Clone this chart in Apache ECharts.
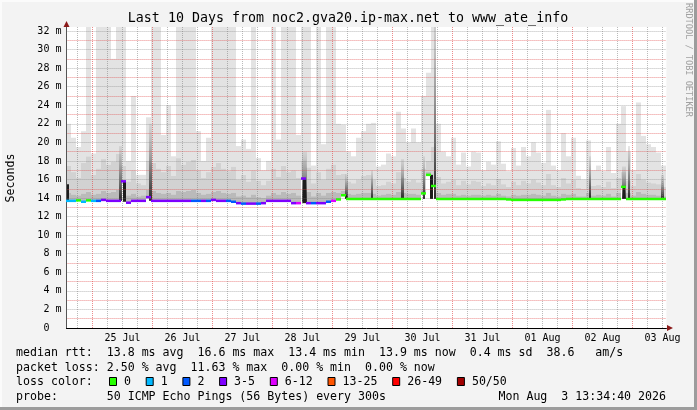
<!DOCTYPE html>
<html><head><meta charset="utf-8">
<script src="https://cdn.jsdelivr.net/npm/echarts@6.0.0/dist/echarts.min.js"></script>
<style>html,body{margin:0;padding:0;background:#f3f3f3}#c{width:697px;height:410px}</style>
</head><body><div id="c"></div>
<script>
// ---- time frame (hours since 2026-07-24 00:00) ----
const START_H = 13.578, END_H = 253.578, STEP_H = 2;

// ---- axis labels ----
const dayLabels = ['25 Jul','26 Jul','27 Jul','28 Jul','29 Jul','30 Jul','31 Jul','01 Aug','02 Aug','03 Aug'];
const dayLabelHours = [36,60,84,108,132,156,180,204,228,252];

// ---- smoke envelope per 2-hour column (ms) ----
const smokeMax = [22,20.5,19.5,21.2,34,18.8,34,34,34,29,
 34,34,18,25,16.5,16.5,22.7,34,34,20.8,
 24,18.5,34,34,34,34,21.2,18,20.5,34,
 34,34,34,34,19.6,20.3,19.3,34,18.3,17,
 18,34,20.3,34,34,34,20.8,34,34,17.5,
 34,19.8,34,34,22,21.9,19,18.5,20.5,21.2,
 22,22.1,17.4,17.6,18.8,18.5,23.3,21.5,20,21.5,
 20,25,27.5,34,22,19,18.5,20.5,17.6,18.9,
 17.4,19,18.9,17,17.9,17.6,20.1,17.7,16.9,19.4,
 17.5,19.5,18.5,20,18.9,17.8,23.5,17.5,17,21,
 18.5,20.5,16.4,16,20.2,17,17.5,16.9,19.5,16.7,
 22,23.9,19,17,24.3,20.7,19.8,19.5,18.9,17.5];
const smokeMid = [17.5,16.8,16.2,17.8,18.5,16.5,17.2,18.2,17.6,17.9,
 18.8,17.5,15.8,17.0,15.6,15.4,18.0,17.8,17.2,16.8,
 17.5,16.4,18.3,17.6,17.9,18.1,17.0,16.2,16.8,17.4,
 17.8,17.2,16.9,17.4,16.0,16.5,15.8,17.0,15.9,15.4,
 15.9,17.2,16.3,17.5,16.8,17.0,16.2,18.0,17.3,15.6,
 16.8,16.0,17.2,17.6,16.5,16.6,15.8,15.6,16.0,16.4,
 16.5,16.0,15.3,15.4,15.8,15.6,16.8,16.2,15.8,16.0,
 15.7,17.2,18.0,19.5,16.3,15.6,15.8,16.0,15.4,15.9,
 15.5,15.9,15.8,15.3,15.6,15.4,16.1,15.5,15.2,15.8,
 15.4,15.9,15.6,16.0,15.7,15.4,16.6,15.4,15.2,16.2,
 15.6,16.0,15.1,15.0,16.0,15.3,15.4,15.2,15.8,15.1,
 16.2,16.8,15.9,15.3,16.6,16.0,15.7,15.6,15.5,15.2];
const smokeDark = [14.6,14.4,14.3,14.5,14.7,14.4,14.5,14.8,14.6,14.7,
 14.9,16.0,14.3,14.5,14.2,14.3,14.9,14.8,14.6,14.5,
 14.6,14.4,14.8,14.7,14.8,14.9,14.6,14.4,14.5,14.7,
 14.8,14.6,14.5,14.6,14.2,14.3,14.1,14.4,14.1,14.0,
 14.3,14.6,14.4,14.7,14.5,14.6,14.3,16.3,14.7,14.2,
 14.6,14.3,14.6,14.7,14.6,14.8,14.5,14.4,14.5,14.6,
 14.6,14.5,14.3,14.4,14.5,14.4,14.7,14.6,14.5,14.5,
 14.4,14.9,16.8,15.6,14.6,14.4,14.5,14.5,14.3,14.4,
 14.3,14.4,14.4,14.3,14.4,14.3,14.5,14.3,14.2,14.4,
 14.3,14.4,14.4,14.5,14.4,14.3,14.6,14.3,14.2,14.5,
 14.4,14.5,14.2,14.2,14.6,14.3,14.4,14.3,14.5,14.2,
 14.6,15.4,14.6,14.3,14.7,14.5,14.4,14.4,14.3,14.2];

// ---- median rtt (ms) and loss class per column ----
const median = [13.7,13.7,13.75,13.6,13.75,13.7,13.7,13.8,13.7,13.7,
 13.7,15.8,13.5,13.7,13.7,13.7,14.1,13.7,13.7,13.7,
 13.7,13.7,13.7,13.7,13.7,13.7,13.7,13.7,13.7,13.8,
 13.7,13.7,13.7,13.6,13.45,13.4,13.4,13.4,13.4,13.45,
 13.7,13.7,13.7,13.7,13.7,13.45,13.45,16.1,13.45,13.45,
 13.45,13.45,13.6,13.7,13.85,14.3,13.9,13.9,13.9,13.9,
 13.9,13.9,13.9,13.9,13.9,13.9,13.9,13.9,13.9,13.9,
 13.9,14.5,16.5,15.3,13.9,13.9,13.9,13.9,13.9,13.9,
 13.9,13.9,13.9,13.9,13.9,13.9,13.9,13.9,13.85,13.8,
 13.8,13.8,13.8,13.8,13.8,13.8,13.8,13.8,13.8,13.85,
 13.9,13.9,13.9,13.9,13.9,13.9,13.9,13.9,13.9,13.9,
 13.9,15.2,13.9,13.9,13.9,13.9,13.9,13.9,13.9,13.9];
const lossClass = [1,1,0,1,0,1,2,3,3,3,
 3,3,3,3,3,3,3,3,3,3,
 3,3,3,3,3,2,2,3,2,3,
 3,3,2,2,3,2,3,3,2,3,
 3,3,3,3,3,3,4,3,3,2,
 3,3,2,4,0,0,0,0,0,0,
 0,0,0,0,0,0,0,0,0,0,
 0,0,0,0,0,0,0,0,0,0,
 0,0,0,0,0,0,0,0,0,0,
 0,0,0,0,0,0,0,0,0,0,
 0,0,0,0,0,0,0,0,0,0,
 0,0,0,0,0,0,0,0,0,0];

// ---- dark smoke spikes ----
const blackStart = [13.9,36.0,108.0,125.0,158.8,236.0];
const blackEnd   = [14.6,37.2,109.2,125.8,160.0,236.8];
const blackLow   = [13.6,13.6,13.45,13.9,13.9,13.9];
const blackHigh  = [15.5,15.8,16.1,14.3,16.5,15.2];
const shadeStart = [34.4,46.4,107.6,124.8,135.2,147.2,156.0,160.4,222.4,235.6,238.0,251.2];
const shadeEnd   = [35.6,47.6,109.6,126.0,136.0,148.4,156.8,161.2,223.2,237.2,238.8,252.4];
const shadeLow   = [13.7,13.7,13.5,13.9,13.9,13.9,13.9,13.9,13.9,13.9,13.9,13.9];
const shadeTop   = [19.6,22,19,16.6,17,18.2,18.5,34,18.5,17.4,19.6,16.5];

// ---- legend ----
const lossLabels = ['0','1','2','3-5','6-12','13-25','26-49','50/50'];
const lossColors = ['#26ff00','#00b8ff','#0059ff','#7e00ff','#dd00ff','#ff5500','#ff0000','#a10000'];
const titleText = 'Last 10 Days from noc2.gva20.ip-max.net to www_ate_info';
const line1 = 'median rtt:  13.8 ms avg  16.6 ms max  13.4 ms min  13.9 ms now  0.4 ms sd  38.6   am/s';
const line2 = 'packet loss: 2.50 % avg  11.63 % max  0.00 % min  0.00 % now';
const line3 = 'loss color:';
const line4 = 'probe:       50 ICMP Echo Pings (56 Bytes) every 300s';
const dateText = 'Mon Aug  3 13:34:40 2026';

// ================= build =================
const F = '"DejaVu Sans Mono", monospace';
const SMOKE_COLORS = ['#bababa', '#d2d2d2', '#e3e3e3'];
const GRID_RED = 'rgba(225,70,70,0.62)', GRID_GREY = 'rgba(120,120,120,0.5)';
const times = smokeMax.map((_, i) => START_H + i * STEP_H);

const minorV = [], majorV = [];
for (let h = 18; h < END_H; h += 6) {
  if (h <= START_H) continue;
  (h % 24 === 0 ? majorV : minorV).push({xAxis: h});
}
function gridSeries(lines, color, z) {
  return {type:'line', data:[], z, silent:true, animation:false,
    markLine:{silent:true, symbol:['none','none'], animation:false, label:{show:false},
      emphasis:{disabled:true}, lineStyle:{color, type:[1,1], width:1}, data:lines}};
}

const shadeGrad = new echarts.graphic.LinearGradient(0,0,0,1,[
  {offset:0, color:'rgba(175,175,175,0.3)'},
  {offset:0.55, color:'rgba(95,95,95,0.7)'},
  {offset:1, color:'rgba(30,30,30,0.95)'}]);

function colRect(api, t0, t1, lo, hi, fill) {
  const a = api.coord([t0, hi]);
  const b = api.coord([t1, lo]);
  const x0 = Math.round(a[0]), x1 = Math.round(b[0]);
  return {type:'rect', shape:{x:x0, y:a[1], width:Math.max(1, x1 - x0), height:b[1] - a[1]}, style:{fill}};
}

const graphics = [];
graphics.push({type:'rect', shape:{x:0,y:0,width:697,height:2}, style:{fill:'#fbfbfb'}, z:0});
graphics.push({type:'rect', shape:{x:0,y:0,width:2,height:410}, style:{fill:'#fbfbfb'}, z:0});
graphics.push({type:'rect', shape:{x:0,y:407,width:697,height:3}, style:{fill:'#9c9c9c'}, z:0});
graphics.push({type:'rect', shape:{x:694,y:0,width:3,height:410}, style:{fill:'#9c9c9c'}, z:0});
graphics.push({type:'text', x:348, y:19, z:50, style:{text:titleText, font:'13.3px '+F, fill:'#000', textAlign:'center', textVerticalAlign:'middle'}});
graphics.push({type:'text', x:11, y:178, rotation:Math.PI/2, z:50, style:{text:'Seconds', font:'11.6px '+F, fill:'#000', textAlign:'center', textVerticalAlign:'middle'}});
graphics.push({type:'text', x:688, y:60, rotation:-Math.PI/2, z:50, style:{text:'RRDTOOL / TOBI OETIKER', font:'8.6px '+F, fill:'#a0a0a0', textAlign:'center', textVerticalAlign:'middle'}});
const rows = [353, 368, 382, 397];
[line1, line2, line3, line4].forEach((t, i) => graphics.push({type:'text', x:16, y:rows[i], z:50,
  style:{text:t, font:'11.6px '+F, fill:'#000', textAlign:'left', textVerticalAlign:'middle'}}));
graphics.push({type:'text', x:666, y:rows[3], z:50, style:{text:dateText, font:'11.6px '+F, fill:'#000', textAlign:'right', textVerticalAlign:'middle'}});
let lx = 109;
lossLabels.forEach((lab, i) => {
  graphics.push({type:'rect', shape:{x:lx+0.5, y:rows[2]-4.5, width:7, height:8}, z:50,
    style:{fill:lossColors[i], stroke:'#000', lineWidth:1}});
  graphics.push({type:'text', x:lx+15, y:rows[2], z:50, style:{text:lab, font:'11.6px '+F, fill:'#000', textAlign:'left', textVerticalAlign:'middle'}});
  lx += 29.7 + 7 * lab.length;
});
graphics.push({type:'polygon', shape:{points:[[667,325],[673,328],[667,331]]}, style:{fill:'#8b1a1a'}, z:60});
graphics.push({type:'polygon', shape:{points:[[63.5,27],[66.5,21],[69.5,27]]}, style:{fill:'#8b1a1a'}, z:60});

const option = {
  backgroundColor:'#f3f3f3',
  animation:false,
  grid:{left:66.445, right:30.555, top:27, bottom:82, show:true, backgroundColor:'#ffffff', borderWidth:0, containLabel:false, outerBoundsMode:'none'},
  xAxis:{type:'value', min:START_H, max:END_H, z:10,
    axisLine:{show:true, onZero:false, lineStyle:{color:'#000', width:1}},
    axisTick:{show:false}, splitLine:{show:false},
    axisLabel:{customValues:dayLabelHours, formatter:v => { const k = dayLabelHours.indexOf(v); return k >= 0 ? dayLabels[k] : ''; },
      fontFamily:F, fontSize:10, color:'#000', margin:5}},
  yAxis:{type:'value', min:0, max:32.43, interval:1, z:3,
    axisLine:{show:true, lineStyle:{color:'#555', width:1}},
    axisTick:{show:false},
    splitLine:{show:true, showMinLine:false, showMaxLine:false, lineStyle:{color:[GRID_RED, GRID_GREY], type:[1,1], width:1}},
    axisLabel:{formatter:v => (v % 2 === 0 ? (v === 0 ? '0  ' : v + ' m') : ''), fontFamily:F, fontSize:10, color:'#000', margin:5, showMaxLabel:false}},
  graphic:graphics,
  series:[
    {type:'custom', name:'smoke', z:1, clip:true, silent:true, animation:false,
      renderItem:(params, api) => {
        const t0 = api.value(0), t1 = api.value(1);
        const m = api.value(2), d = Math.max(m, api.value(3));
        const mid = Math.max(d, api.value(4)), mx = Math.max(mid, api.value(5));
        return {type:'group', children:[
          colRect(api, t0, t1, mid, mx, SMOKE_COLORS[2]),
          colRect(api, t0, t1, d, mid, SMOKE_COLORS[1]),
          colRect(api, t0, t1, m, d, SMOKE_COLORS[0])]};
      },
      encode:{x:[0,1], y:[2,5]},
      data: times.map((t, i) => [t, t + STEP_H, median[i], smokeDark[i], smokeMid[i], smokeMax[i]])},
    {type:'custom', name:'shade', z:2, clip:true, silent:true, animation:false,
      renderItem:(params, api) => colRect(api, api.value(0), api.value(1), api.value(2), api.value(3), shadeGrad),
      encode:{x:[0,1], y:[2,3]},
      data: shadeStart.map((s, i) => [s, shadeEnd[i], shadeLow[i], shadeTop[i]])},
    {type:'custom', name:'black', z:2, clip:true, silent:true, animation:false,
      renderItem:(params, api) => colRect(api, api.value(0), api.value(1), api.value(2), api.value(3), '#1c1c1c'),
      encode:{x:[0,1], y:[2,3]},
      data: blackStart.map((s, i) => [s, blackEnd[i], blackLow[i], blackHigh[i]])},
    gridSeries(minorV, GRID_GREY, 3),
    gridSeries(majorV, GRID_RED, 3),
    {type:'custom', name:'median', z:5, clip:true, silent:true, animation:false,
      renderItem:(params, api) => {
        const a = api.coord([api.value(0), api.value(2)]);
        const b = api.coord([api.value(1), api.value(2)]);
        const x0 = Math.round(a[0]), x1 = Math.round(b[0]);
        return {type:'rect', shape:{x:x0, y:a[1]-1.25, width:x1-x0, height:2.5},
          style:{fill: lossColors[api.value(3)]}};
      },
      encode:{x:[0,1], y:2},
      data: median.map((m, i) => [times[i], times[i] + STEP_H, m, lossClass[i]])}
  ]
};
const chart = echarts.init(document.getElementById('c'), null, {width:697, height:410});
chart.setOption(option);
</script></body></html>
